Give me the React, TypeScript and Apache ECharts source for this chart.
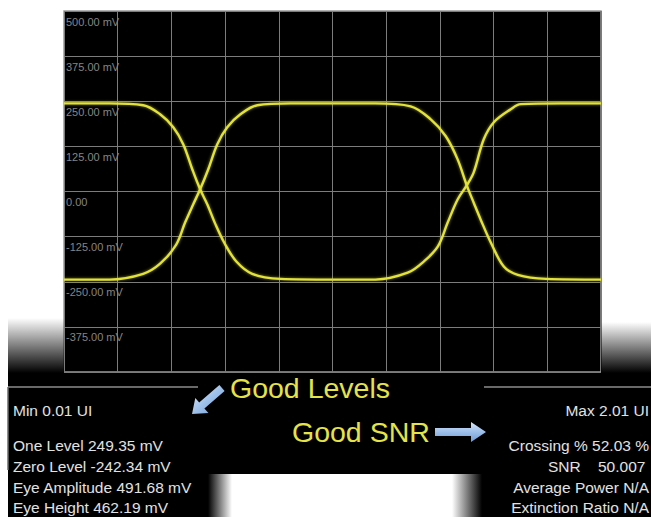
import React, { useEffect, useRef } from 'react';
import * as echarts from 'echarts';

// ---------- data ----------
const uiMin = 0.01;
const uiMax = 2.01;
const yMin = -500;
const yMax = 500;
const yInterval = 125;
const yTickValues = [-375, -250, -125, 0, 125, 250, 375, 500];
const yTickLabels = ['-375.00 mV', '-250.00 mV', '-125.00 mV', '0.00', '125.00 mV', '250.00 mV', '375.00 mV', '500.00 mV'];

const topRail: number[][] = [[0.01, 256], [2.01, 256]];
const bottomRail: number[][] = [[0.01, -236], [2.01, -236]];

const fallingEdge1: number[][] = [
  [0.01, 244], [0.18, 244], [0.305, 239], [0.368, 214], [0.417, 178], [0.454, 131], [0.488, 61],
  [0.517, 6], [0.544, -36], [0.573, -89], [0.607, -142], [0.652, -194], [0.711, -228], [0.816, -242], [1.01, -244],
];
const risingEdge1: number[][] = [
  [0.01, -244], [0.18, -244], [0.305, -228], [0.368, -200], [0.428, -147], [0.461, -86], [0.491, -36],
  [0.517, 6], [0.547, 61], [0.581, 131], [0.618, 178], [0.667, 214], [0.73, 239], [0.853, 244], [1.01, 244],
];
const fallingEdge2: number[][] = [
  [1.01, 244], [1.17, 244], [1.301, 236], [1.376, 200], [1.432, 153], [1.476, 89], [1.51, 17],
  [1.536, -31], [1.562, -78], [1.6, -142], [1.648, -208], [1.7, -231], [1.805, -242], [2.01, -244],
];
const risingEdge2: number[][] = [
  [1.01, -244], [1.17, -244], [1.29, -225], [1.35, -194], [1.402, -153], [1.439, -86], [1.476, -22],
  [1.51, 17], [1.536, 53], [1.573, 144], [1.611, 192], [1.674, 228], [1.711, 242], [1.86, 244], [2.01, 244],
];

const minLabel = 'Min 0.01 UI';
const maxLabel = 'Max 2.01 UI';
const leftMeasurements = ['One Level 249.35 mV', 'Zero Level -242.34 mV', 'Eye Amplitude 491.68 mV', 'Eye Height 462.19 mV'];
const crossingText = 'Crossing % 52.03 %';
const snrName = 'SNR';
const snrValue = '50.007';
const rightMeasurements = ['Average Power N/A', 'Extinction Ratio N/A'];
const noteLevels = 'Good Levels';
const noteSnr = 'Good SNR';

// ---------- styles ----------
const traceColor = '#e2e23c';
const panelColor = '#e2e2e2';
const noteColor = '#e4e44a';
const font = '"Liberation Sans", Arial, sans-serif';

export default function App() {
  const ref = useRef<HTMLDivElement>(null);

  useEffect(() => {
    if (!ref.current) return;
    const chart = echarts.init(ref.current, undefined, { renderer: 'svg' });
    const fade = (a: number, b: number, horiz: boolean, c0: string, c1: string) =>
      new echarts.graphic.LinearGradient(0, 0, horiz ? 1 : 0, horiz ? 0 : 1, [
        { offset: a, color: c0 },
        { offset: b, color: c1 },
      ]);
    const arrowFill = new echarts.graphic.LinearGradient(0, 0, 1, 1, [
      { offset: 0, color: '#e8f0fb' },
      { offset: 0.5, color: '#9fc1ea' },
      { offset: 1, color: '#6f9bd6' },
    ]);
    const arrowFill2 = new echarts.graphic.LinearGradient(0, 0, 0, 1, [
      { offset: 0, color: '#d6e5f8' },
      { offset: 0.5, color: '#9dbfe9' },
      { offset: 1, color: '#6f9bd6' },
    ]);

    const lineSeries = (name: string, data: number[][]) => ({
      name,
      type: 'line',
      data,
      smooth: 0.35,
      showSymbol: false,
      symbol: 'none',
      xAxisIndex: 0,
      yAxisIndex: 0,
      lineStyle: {
        color: traceColor,
        width: 2.4,
        shadowColor: 'rgba(240,240,60,0.55)',
        shadowBlur: 3,
      },
      z: 5,
    });

    const rowY = [445, 466, 487, 507];
    const rightX = 649;
    const txt = (text: string, x: number, y: number, opts: any = {}) => ({
      type: 'text',
      z: 50,
      style: {
        text,
        x,
        y,
        fill: panelColor,
        fontSize: 15.5,
        fontFamily: font,
        align: 'left',
        verticalAlign: 'middle',
        ...opts,
      },
    });

    chart.setOption({
      animation: false,
      backgroundColor: '#ffffff',
      grid: {
        left: 64,
        right: 50,
        top: 11,
        bottom: 145,
        show: true,
        backgroundColor: '#000000',
        borderColor: '#9a9a9a',
        borderWidth: 1.5,
      },
      xAxis: [
        {
          type: 'value',
          min: uiMin,
          max: uiMax,
          show: false,
          splitLine: { show: false },
        },
        {
          type: 'value',
          min: 0,
          max: 10,
          interval: 1,
          position: 'top',
          axisLine: { show: false },
          axisTick: { show: false },
          axisLabel: { show: false },
          splitLine: { show: true, lineStyle: { color: '#7c7c7c', width: 1 } },
        },
      ],
      yAxis: {
        type: 'value',
        min: yMin,
        max: yMax,
        interval: yInterval,
        axisLine: { show: false },
        axisTick: { show: false },
        splitLine: { show: true, lineStyle: { color: '#7c7c7c', width: 1 } },
        axisLabel: {
          inside: true,
          margin: 2,
          showMinLabel: false,
          showMaxLabel: true,
          align: 'left',
          verticalAlign: 'top',
          padding: [5, 0, 0, 0],
          color: '#858585',
          fontSize: 11,
          fontFamily: font,
          formatter: (v: number) => {
            const i = yTickValues.indexOf(v);
            return i >= 0 ? yTickLabels[i] : '';
          },
        },
      },
      series: [
        lineSeries('One-One', topRail),
        lineSeries('Zero-Zero', bottomRail),
        lineSeries('Falling edge 1', fallingEdge1),
        lineSeries('Rising edge 1', risingEdge1),
        lineSeries('Falling edge 2', fallingEdge2),
        lineSeries('Rising edge 2', risingEdge2),
      ],
      graphic: [
        // lower black panel area
        { type: 'rect', z: 1, shape: { x: 8, y: 373, width: 643, height: 144 }, style: { fill: '#000' } },
        // shadows above the panels
        { type: 'rect', z: 1, shape: { x: 8, y: 318, width: 56, height: 55 }, style: { fill: fade(0, 1, false, 'rgba(0,0,0,0)', '#000') } },
        { type: 'rect', z: 1, shape: { x: 601, y: 322, width: 50, height: 51 }, style: { fill: fade(0, 1, false, 'rgba(0,0,0,0)', '#000') } },
        // white cut-out at the bottom middle
        { type: 'rect', z: 2, shape: { x: 232, y: 474, width: 220, height: 43 }, style: { fill: '#fff' } },
        { type: 'rect', z: 2, shape: { x: 208, y: 474, width: 24, height: 43 }, style: { fill: fade(0, 1, true, '#000', '#fff') } },
        { type: 'rect', z: 2, shape: { x: 452, y: 474, width: 30, height: 43 }, style: { fill: fade(0, 1, true, '#fff', '#000') } },
        // panel borders
        { type: 'line', z: 3, shape: { x1: 8, y1: 387, x2: 198, y2: 387 }, style: { stroke: '#8c8c8c', lineWidth: 1.5 } },
        { type: 'line', z: 3, shape: { x1: 484, y1: 387, x2: 651, y2: 387 }, style: { stroke: '#8c8c8c', lineWidth: 1.5 } },
        { type: 'line', z: 3, shape: { x1: 8, y1: 387, x2: 8, y2: 470 }, style: { stroke: '#6a6a6a', lineWidth: 1.5 } },
        // arrows
        {
          type: 'polygon',
          z: 20,
          shape: {
            points: [[224.6, 391.0], [204.4, 408.5], [208.4, 413.1], [192, 414], [195.3, 397.9], [199.2, 402.5], [219.4, 385.0]],
          },
          style: { fill: arrowFill },
        },
        {
          type: 'polygon',
          z: 20,
          shape: {
            points: [[435, 428], [471, 428], [471, 422], [486, 432], [471, 442], [471, 436], [435, 436]],
          },
          style: { fill: arrowFill2 },
        },
        // notes
        txt(noteLevels, 230, 388, { fill: noteColor, fontSize: 28.5 }),
        txt(noteSnr, 292, 432, { fill: noteColor, fontSize: 28.5 }),
        // left panel
        txt(minLabel, 13, 410),
        ...leftMeasurements.map((t, i) => txt(t, 13, rowY[i])),
        // right panel
        txt(maxLabel, rightX, 410, { align: 'right' }),
        txt(crossingText, rightX, rowY[0], { align: 'right' }),
        txt(snrName, 548, rowY[1]),
        txt(snrValue, 598, rowY[1]),
        ...rightMeasurements.map((t, i) => txt(t, rightX, rowY[i + 2], { align: 'right' })),
      ],
    });
    return () => chart.dispose();
  }, []);

  return (
    <div
      ref={ref}
      style={{ position: 'fixed', left: 0, top: 0, width: 651, height: 517, background: '#fff' }}
    />
  );
}
